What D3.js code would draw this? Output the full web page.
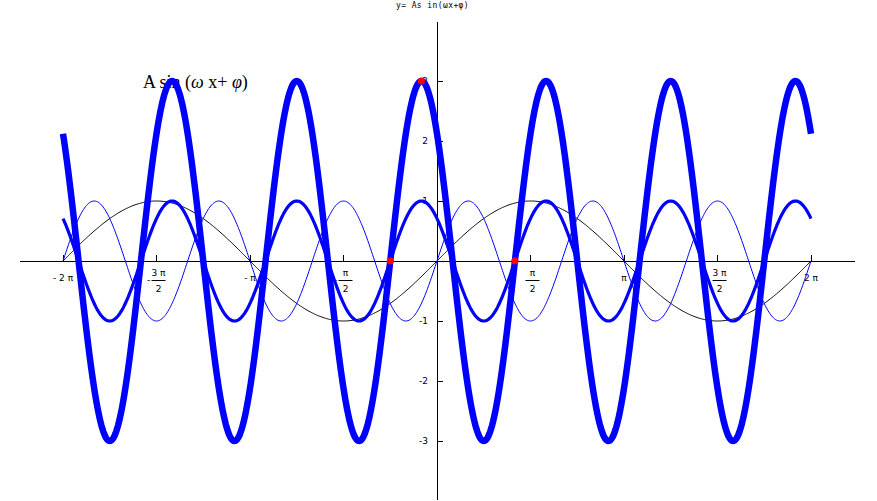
<!DOCTYPE html>
<html><head><meta charset="utf-8">
<script src="https://cdn.jsdelivr.net/npm/d3@7"></script>
<style>body{margin:0;background:#fff}svg{display:block}</style>
</head><body>
<script>
// Curve parameters: y = A sin(w x + phi)
const curveNames = ["sin x", "sin 3x", "sin(3x+3π/4)", "3 sin(3x+3π/4)"];
const amplitudes = [1, 1, 1, 3];
const omegas = [1, 3, 3, 3];
const phases = [0, 0, 3*Math.PI/4, 3*Math.PI/4];
const curveColors = ["#000000", "#0000ff", "#0000ff", "#0000ff"];
const curveWidths = [1, 1, 3.2, 6.5];
// highlighted points on the thick curve
const pointX = [-Math.PI/4, -Math.PI/12, 5*Math.PI/12];
const pointY = [0, 3, 0];
// ticks
const xTickValues = [-2, -1.5, -1, -0.5, 0.5, 1, 1.5, 2]; // multiples of π
const xTickLabels = [
  {sign:"-", num:"2 π", den:null}, {sign:"-", num:"3 π", den:"2"},
  {sign:"-", num:"π", den:null}, {sign:"-", num:"π", den:"2"},
  {sign:"", num:"π", den:"2"}, {sign:"", num:"π", den:null},
  {sign:"", num:"3 π", den:"2"}, {sign:"", num:"2 π", den:null}];
const yTickValues = [-3, -2, -1, 1, 2, 3];
const yTickLabels = ["-3", "-2", "-1", "1", "2", "3"];
const title = "y=  As in(ωx+φ)";
const labelParts = [["A sin (", "normal"], ["ω", "italic"], [" x+ ", "normal"], ["φ", "italic"], [")", "normal"]];

const W = 877, H = 501;
const svg = d3.select("body").append("svg").attr("width", W).attr("height", H);
const x = d3.scaleLinear().domain([-2*Math.PI, 2*Math.PI]).range([63, 811]);
const y = d3.scaleLinear().domain([-3, 3]).range([441, 81]);

// title
svg.append("text").attr("x", 396).attr("y", 8).attr("text-anchor", "start")
  .attr("font-family", "DejaVu Sans Mono, monospace").attr("font-size", 8)
  .attr("letter-spacing", 0.4).text(title);

// axes
svg.append("line").attr("x1", 20).attr("x2", 855).attr("y1", y(0)).attr("y2", y(0))
  .attr("stroke", "#000").attr("stroke-width", 1).attr("shape-rendering", "crispEdges");
svg.append("line").attr("x1", x(0)).attr("x2", x(0)).attr("y1", 22).attr("y2", 500)
  .attr("stroke", "#000").attr("stroke-width", 1).attr("shape-rendering", "crispEdges");

// x ticks
xTickValues.forEach((v, i) => {
  const px = x(v*Math.PI);
  svg.append("line").attr("x1", px).attr("x2", px).attr("y1", y(0)-6).attr("y2", y(0))
    .attr("stroke", "#000").attr("shape-rendering", "crispEdges");
  const L = xTickLabels[i];
  const g = svg.append("g").attr("font-family", "DejaVu Sans, sans-serif").attr("font-size", 9);
  if (L.den) {
    g.append("text").attr("x", px+2).attr("y", y(0)+15).attr("text-anchor", "middle").text(L.num);
    g.append("line").attr("x1", px-5).attr("x2", px+9).attr("y1", y(0)+19.5).attr("y2", y(0)+19.5)
      .attr("stroke", "#000").attr("stroke-width", 1);
    g.append("text").attr("x", px+2).attr("y", y(0)+31).attr("text-anchor", "middle").text(L.den);
    if (L.sign) g.append("text").attr("x", px-8).attr("y", y(0)+22).attr("text-anchor", "middle").text("-");
  } else {
    g.append("text").attr("x", px).attr("y", y(0)+20).attr("text-anchor", "middle").text(L.sign + " " + L.num);
  }
});

// y ticks
yTickValues.forEach((v, i) => {
  const py = y(v);
  svg.append("line").attr("x1", x(0)).attr("x2", x(0)+6).attr("y1", py).attr("y2", py)
    .attr("stroke", "#000").attr("shape-rendering", "crispEdges");
  svg.append("text").attr("x", x(0)-9).attr("y", py+3).attr("text-anchor", "end")
    .attr("font-family", "DejaVu Sans, sans-serif").attr("font-size", 9).text(yTickLabels[i]);
});

// label (drawn under curves)
const lab = svg.append("text").attr("x", 143).attr("y", 88)
  .attr("font-family", "Liberation Serif, serif").attr("font-size", 18);
labelParts.forEach(p => lab.append("tspan").attr("font-style", p[1]).text(p[0]));

// curves
const N = 800;
const xs = d3.range(N+1).map(i => -2*Math.PI + 4*Math.PI*i/N);
const line = d3.line().x(d => x(d[0])).y(d => y(d[1]));
curveNames.forEach((n, k) => {
  const pts = xs.map(t => [t, amplitudes[k]*Math.sin(omegas[k]*t + phases[k])]);
  svg.append("path").attr("d", line(pts)).attr("fill", "none")
    .attr("stroke", curveColors[k]).attr("stroke-width", curveWidths[k]);
});

// points
pointX.forEach((px, i) => {
  svg.append("circle").attr("cx", x(px)).attr("cy", y(pointY[i])).attr("r", 3.5).attr("fill", "#ff0000");
});
</script>
</body></html>
